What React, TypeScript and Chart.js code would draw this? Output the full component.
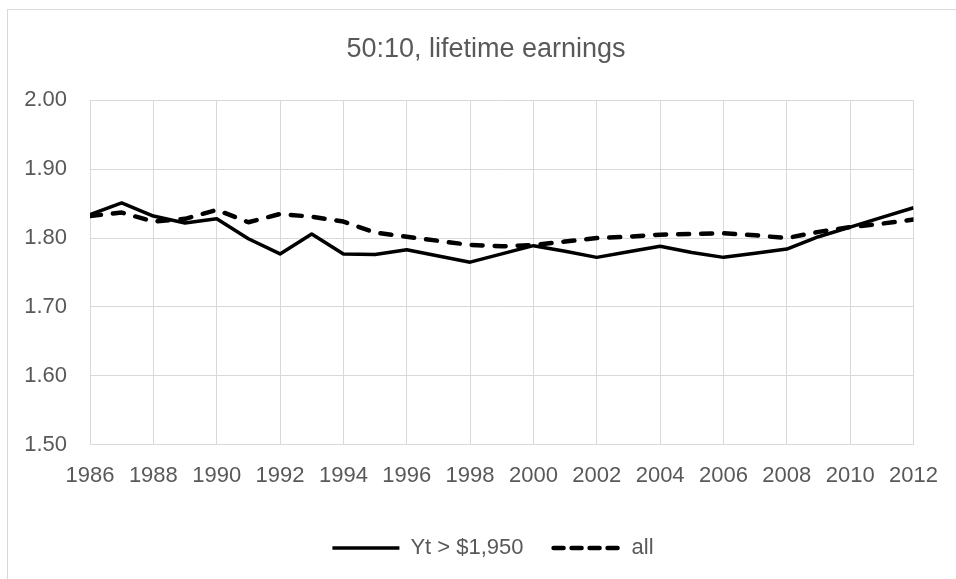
import React, { useEffect, useRef } from "react";
import { Chart, registerables } from "chart.js";

Chart.register(...registerables);

const TITLE = "50:10, lifetime earnings";

const years = [
  1986, 1987, 1988, 1989, 1990, 1991, 1992, 1993, 1994, 1995, 1996, 1997, 1998, 1999,
  2000, 2001, 2002, 2003, 2004, 2005, 2006, 2007, 2008, 2009, 2010, 2011, 2012,
];

const seriesNames = ["Yt > $1,950", "all"];

const ytAbove = [
  1.834, 1.851, 1.832, 1.822, 1.828, 1.799, 1.777, 1.806, 1.777, 1.776, 1.783, 1.774, 1.765, 1.777,
  1.789, 1.781, 1.772, 1.78, 1.788, 1.779, 1.772, 1.778, 1.784, 1.802, 1.816, 1.83, 1.844,
];

const allEarners = [
  1.832, 1.837, 1.824, 1.828, 1.841, 1.823, 1.835, 1.831, 1.824, 1.808, 1.802, 1.796, 1.79, 1.788,
  1.79, 1.795, 1.8, 1.802, 1.805, 1.806, 1.807, 1.804, 1.8, 1.809, 1.816, 1.821, 1.827,
];

const yTicks = [1.5, 1.6, 1.7, 1.8, 1.9, 2.0];
const xTickStep = 2;

const FONT = "'Liberation Sans', Arial, sans-serif";
const TEXT = "#595959";
const GRID = "#d9d9d9";

const SOLID_W = 3.5;
const DASH_W = 4.5;
const DASH = [11, 12];
const LEGEND_DASH = [10, 8];

export default function App() {
  const ref = useRef<HTMLCanvasElement | null>(null);

  useEffect(() => {
    const canvas = ref.current;
    if (!canvas) return;

    const shiftBlocks = {
      id: "shiftBlocks",
      afterLayout(ch: any) {
        const lg = ch.legend;
        if (lg) {
          lg.left += 35;
          lg.right += 35;
        }
        const tb = ch.titleBlock;
        if (tb) {
          tb.left += 28;
          tb.right += 28;
        }
      },
    };

    const chart = new Chart(canvas, {
      type: "line",
      data: {
        datasets: [
          {
            label: seriesNames[0],
            data: years.map((y, i) => ({ x: y, y: ytAbove[i] })),
            borderColor: "#000000",
            backgroundColor: "#000000",
            borderWidth: SOLID_W,
            pointRadius: 0,
            tension: 0,
            borderJoinStyle: "round",
          },
          {
            label: seriesNames[1],
            data: years.map((y, i) => ({ x: y, y: allEarners[i] })),
            borderColor: "#000000",
            backgroundColor: "#000000",
            borderWidth: DASH_W,
            borderDash: DASH,
            borderCapStyle: "round",
            pointRadius: 0,
            tension: 0,
            borderJoinStyle: "round",
          },
        ],
      },
      options: {
        animation: false,
        responsive: false,
        devicePixelRatio: 1,
        layout: { padding: { left: 0, right: 40, top: 0, bottom: 10 } },
        plugins: {
          title: {
            display: true,
            text: TITLE,
            color: TEXT,
            font: { family: FONT, size: 27, weight: "normal" },
            padding: { top: 33, bottom: 35 },
          },
          legend: {
            display: true,
            position: "bottom",
            labels: {
              usePointStyle: true,
              pointStyle: "line",
              pointStyleWidth: 67,
              color: TEXT,
              padding: 30,
              font: { family: FONT, size: 22 },
              generateLabels: (ch: any) => {
                const items = (Chart as any).defaults.plugins.legend.labels.generateLabels(ch);
                items.forEach((it: any, i: number) => {
                  it.pointStyle = "line";
                  it.strokeStyle = "#000000";
                  it.fontColor = TEXT;
                  if (i === 1) {
                    it.lineDash = LEGEND_DASH;
                    it.lineWidth = DASH_W;
                    it.lineCap = "round";
                  } else {
                    it.lineDash = [];
                    it.lineWidth = SOLID_W;
                    it.lineCap = "butt";
                  }
                });
                return items;
              },
            },
          },
          tooltip: { enabled: false },
        },
        scales: {
          x: {
            type: "linear",
            min: years[0],
            max: years[years.length - 1],
            grid: { color: GRID, lineWidth: 1, drawTicks: false },
            border: { display: true, color: GRID },
            ticks: {
              stepSize: xTickStep,
              autoSkip: false,
              maxRotation: 0,
              padding: 18,
              color: TEXT,
              font: { family: FONT, size: 22 },
              callback: (v: any) => String(v),
            },
          },
          y: {
            min: yTicks[0],
            max: yTicks[yTicks.length - 1],
            grid: { color: GRID, lineWidth: 1, drawTicks: false },
            border: { display: true, color: GRID },
            afterFit: (scale: any) => {
              scale.width = 90;
            },
            ticks: {
              stepSize: 0.1,
              padding: 23,
              color: TEXT,
              font: { family: FONT, size: 22 },
              callback: (v: any) => Number(v).toFixed(2),
            },
          },
        },
      },
      plugins: [shiftBlocks],
    });
    return () => chart.destroy();
  }, []);

  return (
    <div
      style={{
        position: "fixed",
        left: 0,
        top: 0,
        width: 956,
        height: 579,
        overflow: "hidden",
        background: "#ffffff",
      }}
    >
      <div
        style={{
          position: "absolute",
          left: 7,
          top: 9,
          width: 1200,
          height: 1000,
          border: "1px solid #d9d9d9",
        }}
      />
      <canvas
        ref={ref}
        width={956}
        height={579}
        style={{ position: "absolute", left: 0, top: 0, width: 956, height: 579 }}
      />
    </div>
  );
}
